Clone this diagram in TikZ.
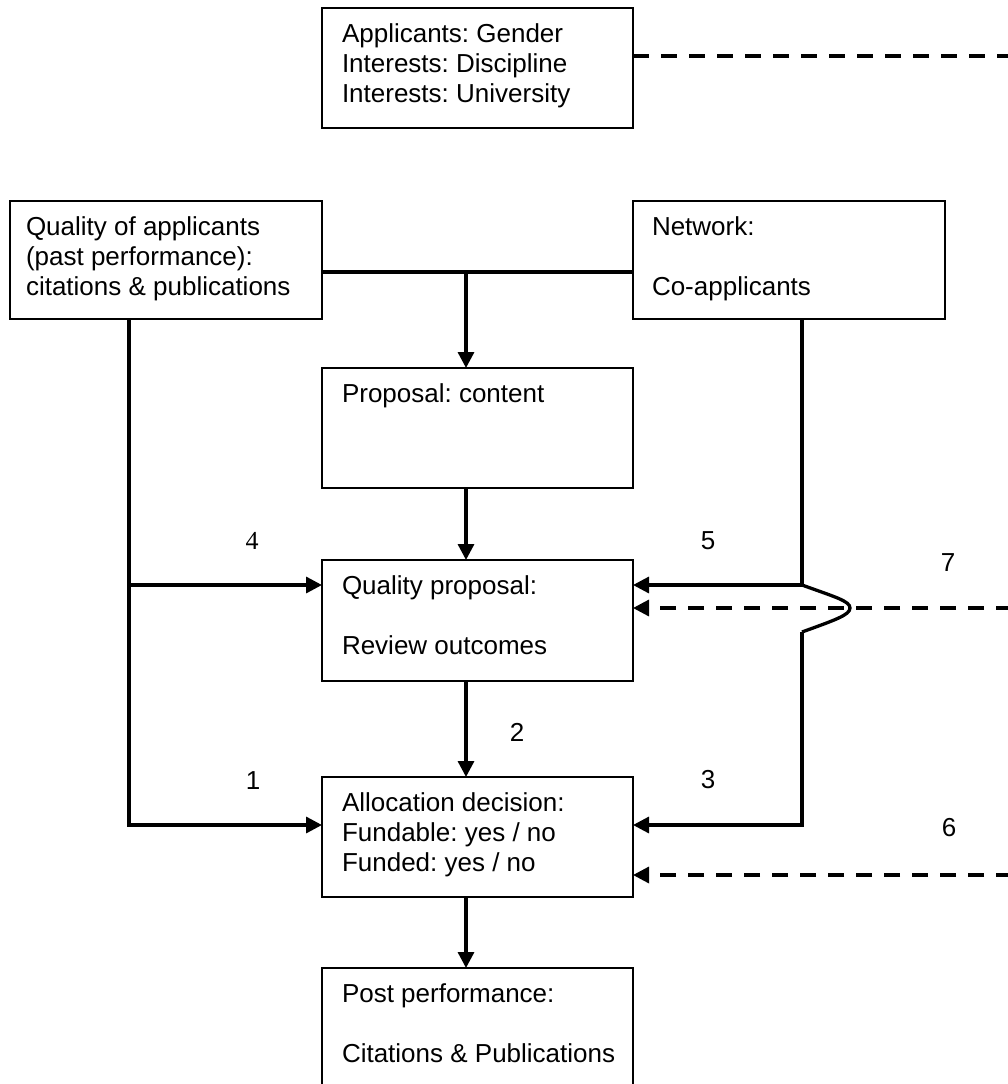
\documentclass[tikz,border=0pt]{standalone}
\usepackage{fontspec}
\setmainfont{Liberation Sans}
\newfontfamily\numserif{Liberation Serif}
\usetikzlibrary{arrows.meta,calc}
\newcommand\bxfont{\fontsize{26}{30}\selectfont}
\frenchspacing
\begin{document}
\begin{tikzpicture}[x=1pt,y=-1pt,
  box/.style={draw, line width=1.3pt, anchor=north west, inner sep=0pt, outer sep=0pt,
              minimum width=311pt, minimum height=120pt},
  txt/.style={anchor=north west, inner sep=0pt, outer sep=0pt, align=left, font=\bxfont},
  conn/.style={line width=3.3pt},
  arr/.style={conn, -{Triangle[length=16pt,width=16pt]}},
  dconn/.style={conn, dash pattern=on 16pt off 12pt},
  darr/.style={dconn, -{Triangle[length=16pt,width=16pt]}},
  num/.style={font=\bxfont, inner sep=0pt}]
\useasboundingbox (0,0) rectangle (1008,1084);
\clip (0,0) rectangle (1008,1084);

% boxes
\node[box] (appl) at (322,8) {};
\node[box, minimum width=312pt, minimum height=118pt] (qual) at (10,201) {};
\node[box, minimum width=312pt, minimum height=118pt] (net) at (633,201) {};
\node[box] (prop) at (322,368) {};
\node[box, minimum height=121pt] (qprop) at (322,560) {};
\node[box] (alloc) at (322,777) {};
\node[box, minimum height=140pt] (post) at (322,968) {};

% texts
\node[txt] (applt) at ($(appl.north west)+(20,13)$) {\strut Applicants: Gender\\Interests: Discipline\\Interests: University};
\node[txt] (qualt) at ($(qual.north west)+(16,13)$) {\strut Quality of applicants\\(past performance):\\citations \& publications};
\node[txt] (nett) at ($(net.north west)+(19,13)$) {\strut Network:\\[30pt]Co-applicants};
\node[txt] (propt) at ($(prop.north west)+(20,13)$) {\strut Proposal: content};
\node[txt] (qpropt) at ($(qprop.north west)+(20,13)$) {\strut Quality proposal:\\[30pt]Review outcomes};
\node[txt] (allot) at ($(alloc.north west)+(20,13)$) {\strut Allocation decision:\\Fundable: yes / no\\Funded: yes / no};
\node[txt] (postt) at ($(post.north west)+(20,13)$) {\strut Post performance:\\[30pt]Citations \& Publications};

% helper coordinates
\coordinate (cx) at (466,272);
\coordinate (a4) at (129,585);
\coordinate (a1) at (129,825);
\coordinate (r5) at (802,585);
\coordinate (hopE) at (802,632);
\coordinate (r3) at (802,825);
\coordinate (e0) at (1012,56);
\coordinate (e7) at (1012,608);
\coordinate (e6) at (1012,875);

% top junction
\draw[conn] (qual.east |- cx) -- (net.west |- cx);
\draw[arr] (cx) -- (prop.north -| cx);
\draw[arr] (prop.south -| cx) -- (qprop.north -| cx);
\draw[arr] (qprop.south -| cx) -- (alloc.north -| cx);
\draw[arr] (alloc.south -| cx) -- (post.north -| cx);

% left feed
\draw[arr] (qual.south -| a1) -- (a1) -- (a1 -| alloc.west);
\draw[arr] (a4) -- (a4 -| qprop.west);

% right feed with hop
\draw[arr] (net.south -| r5) -- (r5) -- (r5 -| qprop.east);
\draw[conn] (r5) .. controls (835,597) and (850,601) .. (850,608)
                 .. controls (850,615) and (835,620) .. (hopE);
\draw[arr] (hopE) -- (r3) -- (r3 -| alloc.east);

% dashed
\draw[dconn] (appl.east |- e0) -- (e0);
\draw[darr] (e7) -- (e7 -| qprop.east);
\draw[darr] (e6) -- (e6 -| alloc.east);

% numbers
\node[num, font={\numserif\fontsize{26}{30}\selectfont}] (n4) at (252,541) {4};
\node[num] (n5) at (708,541) {5};
\node[num] (n7) at (948,563) {7};
\node[num] (n2) at (517,732) {2};
\node[num] (n1) at (253,781) {1};
\node[num] (n3) at (708,780) {3};
\node[num] (n6) at (949,828) {6};
\end{tikzpicture}
\end{document}
